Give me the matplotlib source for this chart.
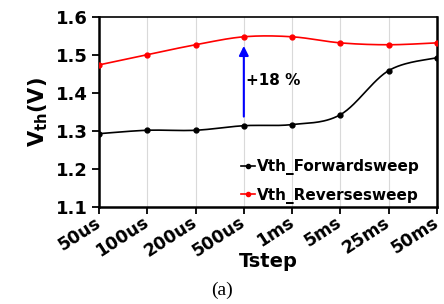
import numpy as np
import matplotlib
matplotlib.use('Agg')
import matplotlib.pyplot as plt

# data
tsteps = ['50us', '100us', '200us', '500us', '1ms', '5ms', '25ms', '50ms']
vth_forward = [1.293, 1.302, 1.302, 1.314, 1.317, 1.343, 1.459, 1.493]
vth_reverse = [1.474, 1.501, 1.527, 1.548, 1.548, 1.532, 1.527, 1.532]


def smooth(xs, ys, n=30):
    # catmull-rom style smoothing like the excel "smoothed line"
    xs = np.asarray(xs, float)
    ys = np.asarray(ys, float)
    px = np.concatenate(([xs[0]], xs, [xs[-1]]))
    py = np.concatenate(([ys[0]], ys, [ys[-1]]))
    outx, outy = [], []
    for i in range(1, len(px) - 2):
        p0, p1, p2, p3 = (np.array([px[j], py[j]]) for j in (i - 1, i, i + 1, i + 2))
        c1 = p1 + (p2 - p0) / 6.0
        c2 = p2 - (p3 - p1) / 6.0
        t = np.linspace(0, 1, n)[:, None]
        b = (1 - t) ** 3 * p1 + 3 * (1 - t) ** 2 * t * c1 + 3 * (1 - t) * t ** 2 * c2 + t ** 3 * p2
        outx.extend(b[:, 0])
        outy.extend(b[:, 1])
    return outx, outy


plt.rcParams['font.family'] = ['DejaVu Sans']
plt.rcParams['font.weight'] = 'bold'
plt.rcParams['mathtext.default'] = 'bf'

fig = plt.figure(figsize=(4.44, 3.04), dpi=100)
ax = fig.add_axes([0.223, 0.319, 0.761, 0.625])

x = np.arange(len(tsteps))
for vals, col, lab in ((vth_forward, 'black', 'Vth_Forwardsweep'),
                       (vth_reverse, 'red', 'Vth_Reversesweep')):
    sx, sy = smooth(x, vals)
    ax.plot(sx, sy, color=col, lw=1.2, zorder=3)
    ax.plot(x, vals, 'o', color=col, ms=3.5, zorder=4)
    ax.plot([], [], '-o', color=col, lw=1.2, ms=3, label=lab)

ax.annotate('', xy=(3, 1.524), xytext=(3, 1.338),
            arrowprops=dict(arrowstyle='-|>', color='blue', lw=1.5,
                            mutation_scale=14, shrinkA=0, shrinkB=0), zorder=5)
ax.text(3.05, 1.432, '+18 %', fontsize=11, fontweight='bold', va='center')

ax.set_xlim(0, 7)
ax.set_ylim(1.1, 1.6)
ax.set_yticks([1.1, 1.2, 1.3, 1.4, 1.5, 1.6])
ax.set_xticks(x)
ax.set_xticklabels(tsteps, rotation=33, ha='right', va='center',
                   rotation_mode='anchor')
ax.tick_params(axis='both', labelsize=13, direction='out', length=5, width=1.3)
ax.tick_params(axis='x', labelsize=12.5, pad=5)
ax.tick_params(axis='y', pad=3)
ax.grid(axis='x', color='#d9d9d9', lw=0.8)

for s in ['left', 'bottom', 'right']:
    ax.spines[s].set_linewidth(1.8)
ax.spines['top'].set_linewidth(1.2)

ax.set_ylabel('V$_{th}$(V)', fontsize=15, fontweight='bold', labelpad=4)
ax.set_xlabel('Tstep', fontsize=14, fontweight='bold', labelpad=-6)

ax.legend(loc='lower right', bbox_to_anchor=(0.975, -0.03), frameon=False,
          fontsize=11, handlelength=0.9, handletextpad=0.1, labelspacing=0.8,
          borderaxespad=0.2)

fig.text(0.5, 0.03, '(a)', fontsize=14, family='Liberation Serif',
         fontweight='normal', ha='center')

fig.savefig('out.png', dpi=100)
